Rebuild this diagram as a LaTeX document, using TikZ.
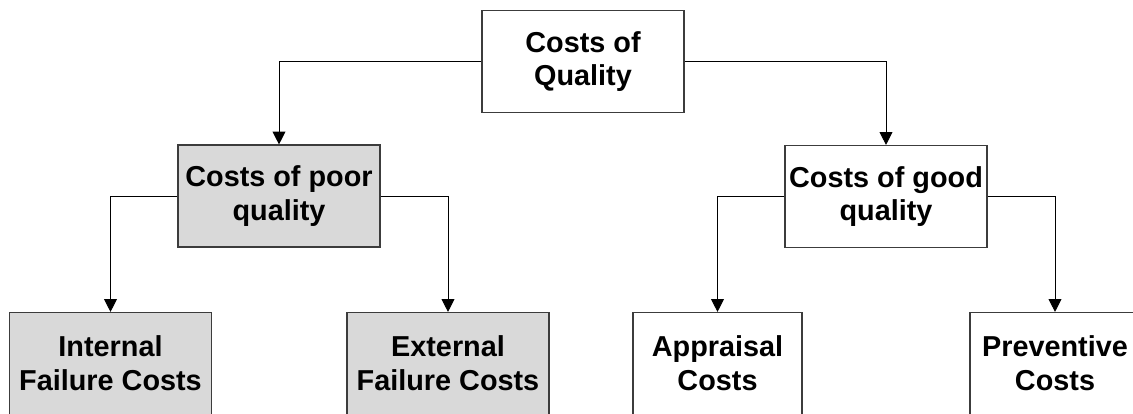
\documentclass[tikz,border=0pt]{standalone}
\usepackage{fontspec}
\setmainfont{Liberation Sans}
\usepackage{tikz}
\usetikzlibrary{arrows.meta,positioning}
\definecolor{poorgray}{RGB}{217,217,217}
\definecolor{edgegray}{RGB}{60,60,60}

\begin{document}
\begin{tikzpicture}[
    costbox/.style={draw=edgegray, line width=0.8pt, align=center, inner sep=0pt,
      minimum width=5.05cm, minimum height=2.55cm,
      font=\fontsize{20.5}{24}\selectfont\bfseries},
    poorbox/.style={costbox, fill=poorgray},
    link/.style={line width=0.7pt, -{Triangle[width=0.32cm, length=0.32cm]}}
  ]
    \useasboundingbox (0,0) rectangle (28.325,10.325);

    % Top level
    \node[costbox] (quality) at (14.575,8.7875) {Costs of\\Quality};

    % Second level
    \node[poorbox] (poor) at (6.975,5.425) {Costs of poor\\quality};
    \node[costbox] (good) at (22.15,5.4125) {Costs of good\\quality};

    % Third level
    \node[poorbox] (internal) at (2.7625,1.2375) {Internal\\Failure Costs};
    \node[poorbox] (external) at (11.2,1.2375) {External\\Failure Costs};
    \node[costbox, minimum width=4.225cm] (appraisal) at (17.9375,1.2375) {Appraisal\\Costs};
    \node[costbox, minimum width=4.25cm] (preventive) at (26.375,1.2375) {Preventive\\Costs};

    % Connectors
    \draw[link] (quality.west) -| (poor.north);
    \draw[link] (quality.east) -| (good.north);
    \draw[link] (poor.west) -| (internal.north);
    \draw[link] (poor.east) -| (external.north);
    \draw[link] (good.west) -| (appraisal.north);
    \draw[link] (good.east) -| (preventive.north);
  \end{tikzpicture}
\end{document}
